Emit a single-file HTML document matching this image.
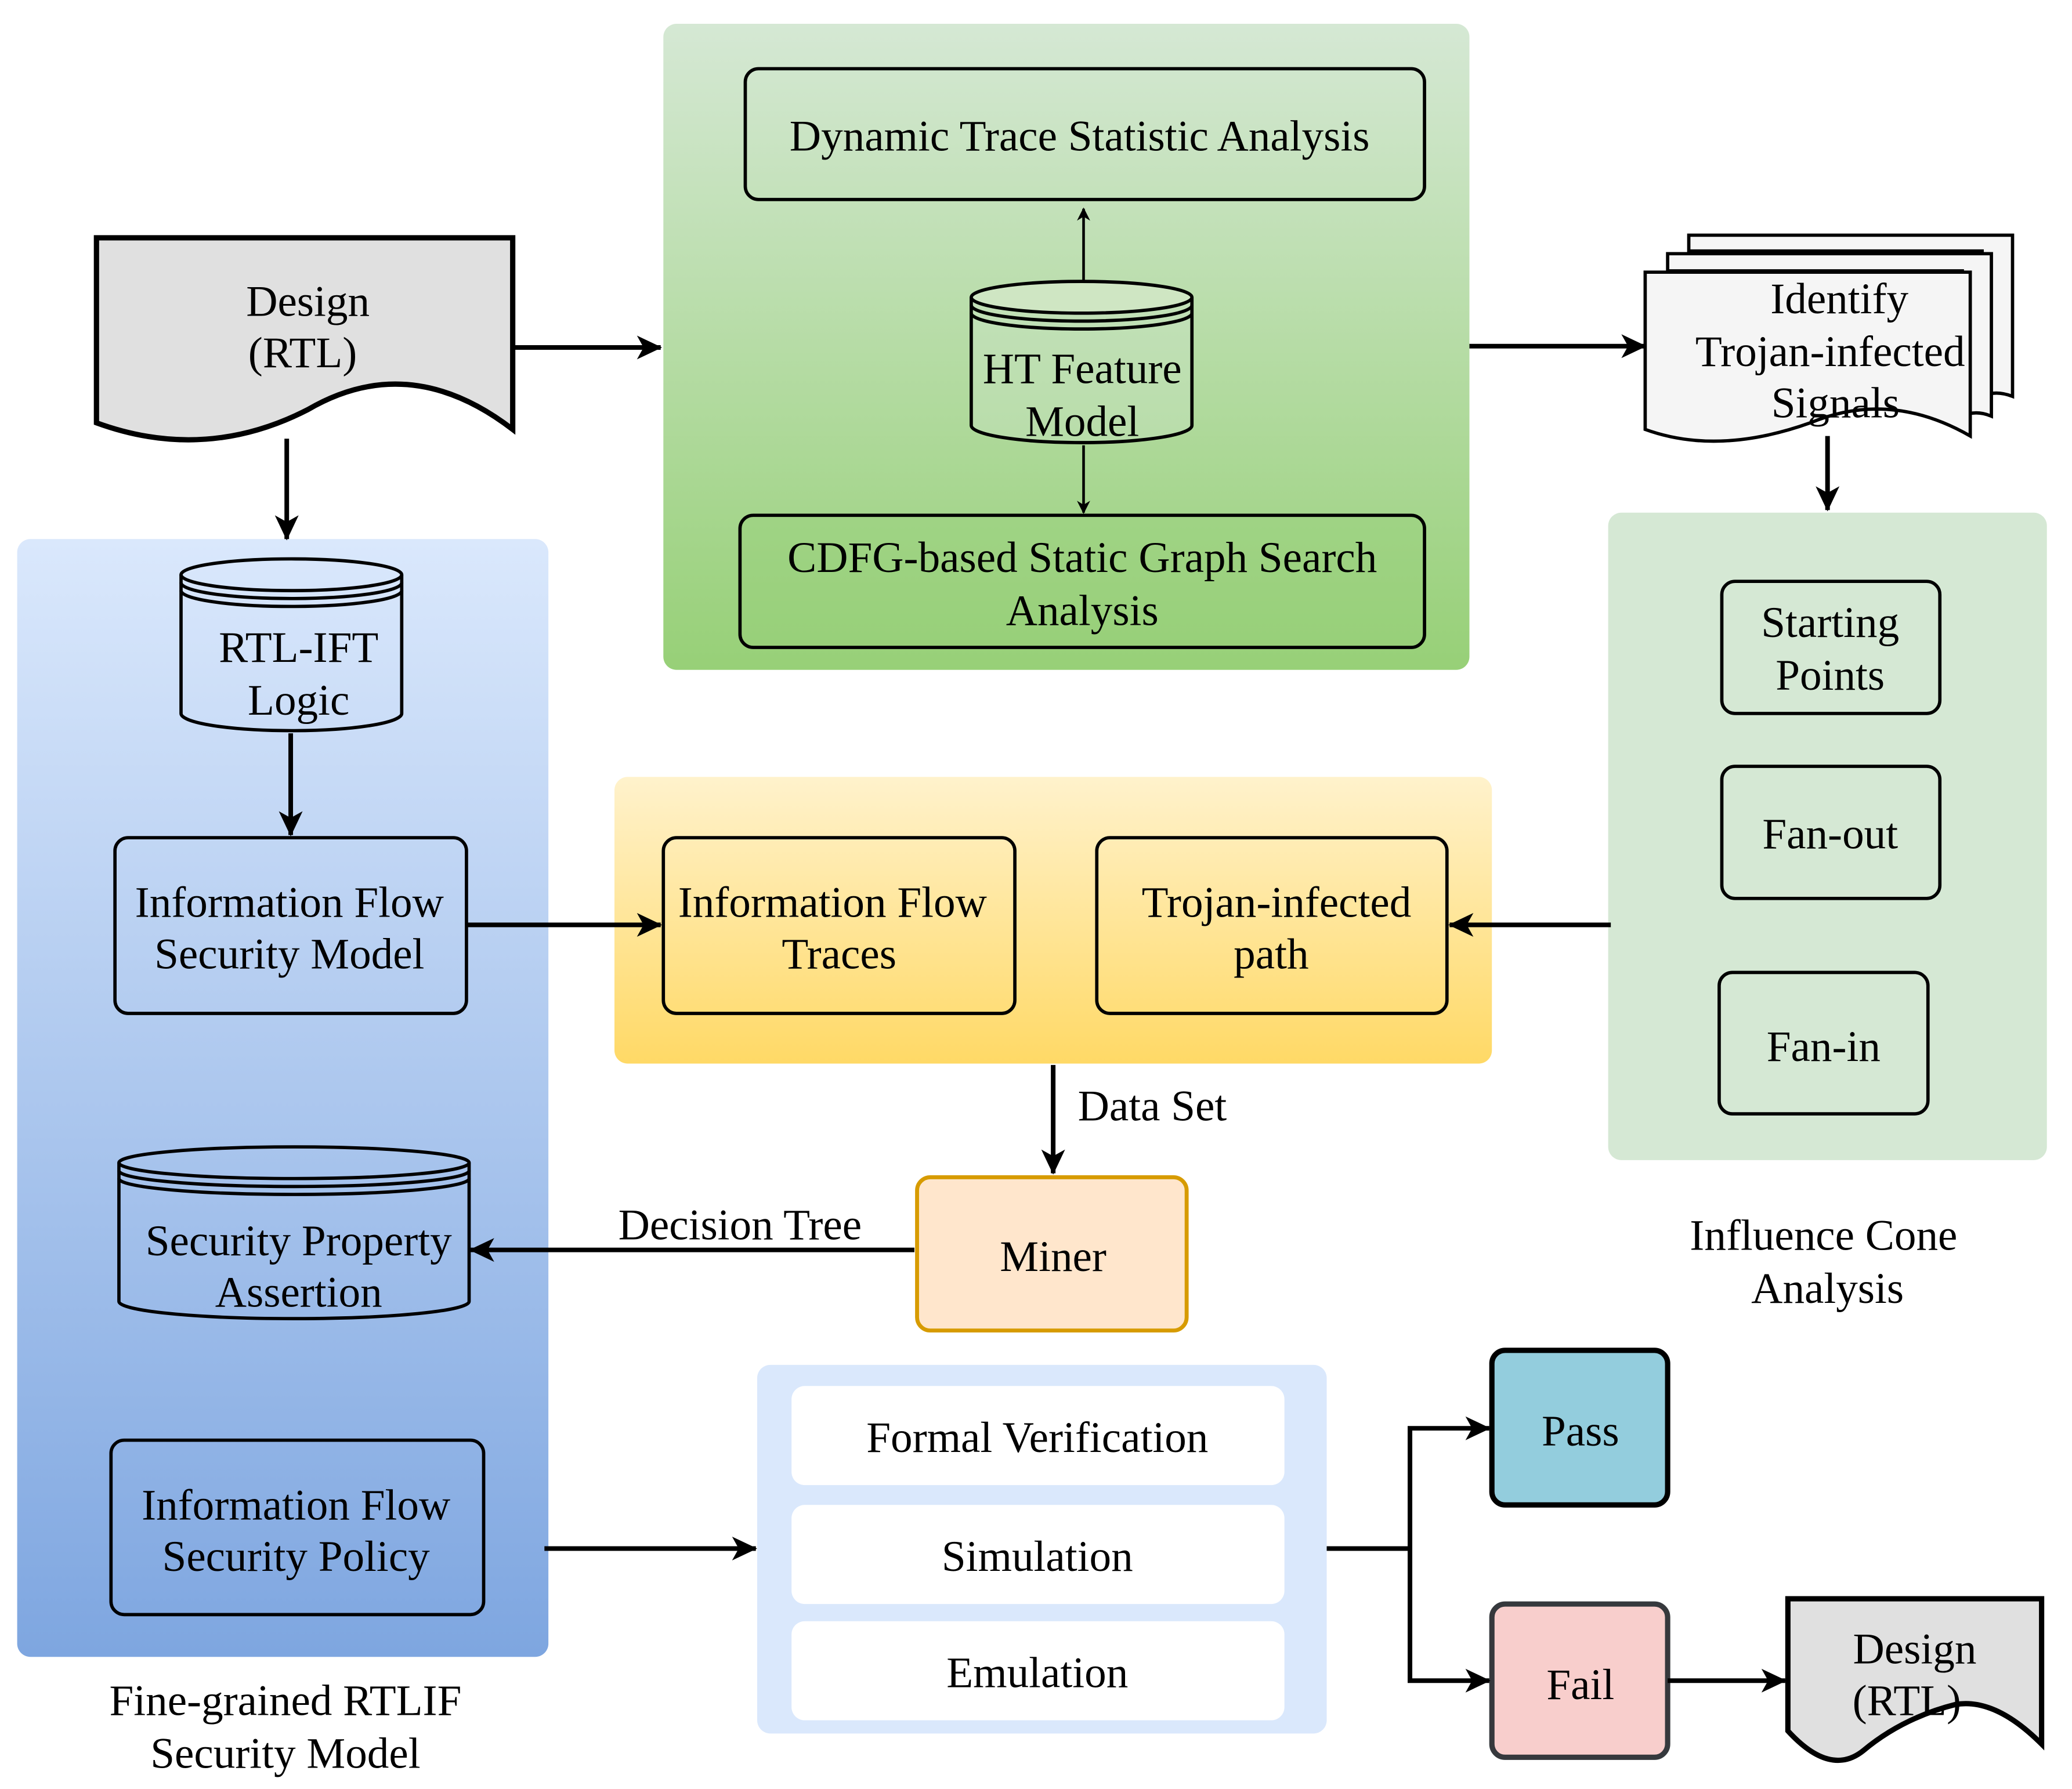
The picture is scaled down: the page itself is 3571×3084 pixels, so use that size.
<!DOCTYPE html>
<html><head><meta charset="utf-8"><style>
html,body{margin:0;padding:0;background:#fff}
svg{display:block}
text{font-family:"Liberation Serif",serif;font-size:33px;fill:#000;text-anchor:middle}
</style></head><body>
<svg width="3571" height="3084" viewBox="0 0 1568 1354" preserveAspectRatio="none" xmlns="http://www.w3.org/2000/svg">
<defs>
<linearGradient id="gG" x1="0" y1="0" x2="0" y2="1"><stop offset="0" stop-color="#d5e8d4"/><stop offset="1" stop-color="#97d077"/></linearGradient>
<linearGradient id="gB" x1="0" y1="0" x2="0" y2="1"><stop offset="0" stop-color="#dae8fc"/><stop offset="1" stop-color="#7ea6e0"/></linearGradient>
<linearGradient id="gY" x1="0" y1="0" x2="0" y2="1"><stop offset="0" stop-color="#fff2cc"/><stop offset="1" stop-color="#ffd966"/></linearGradient>
<marker id="ar" markerWidth="10" markerHeight="10" refX="9" refY="5" orient="auto" markerUnits="userSpaceOnUse"><path d="M0,0 L10,5 L0,10 L3,5 Z" fill="#000"/></marker>
<marker id="ab" markerWidth="20" markerHeight="20" refX="18" refY="10" orient="auto" markerUnits="userSpaceOnUse"><path d="M0,1 L19,10 L0,19 L5,10 Z" fill="#000"/></marker>
</defs>
<g stroke="#000" stroke-width="2.5" fill="none">
<rect x="502" y="18" width="610" height="489" rx="10" fill="url(#gG)" stroke="none"/>
<rect x="13" y="408" width="402" height="846" rx="10" fill="url(#gB)" stroke="none"/>
<rect x="465" y="588" width="664" height="217" rx="10" fill="url(#gY)" stroke="none"/>
<rect x="1217" y="388" width="332" height="490" rx="10" fill="#d5e8d4" stroke="none"/>
<rect x="573" y="1033" width="431" height="279" rx="10" fill="#dae8fc" stroke="none"/>
<rect x="599" y="1049" width="373" height="75" rx="10" fill="#fff" stroke="none"/>
<rect x="599" y="1139" width="373" height="75" rx="10" fill="#fff" stroke="none"/>
<rect x="599" y="1227" width="373" height="75" rx="10" fill="#fff" stroke="none"/>

<path d="M73,180 H388 V325 Q310,265 233,310 Q155,350 73,320 Z" fill="#e0e0e0" stroke-width="4"/>
<rect x="564" y="52" width="514" height="99" rx="10"/>
<rect x="560" y="390" width="518" height="100" rx="10" fill="#97d077" fill-opacity="0.4"/>
<path d="M735,225 V322 A83.5,13 0 0 0 902,322 V225" fill="#d5e8d4" fill-opacity="0.3"/>
<ellipse cx="818.5" cy="225" rx="83.5" ry="12" fill="#cfe6c3"/>
<path d="M735,231 A83.5,12 0 0 0 902,231 M735,237 A83.5,12 0 0 0 902,237" />
<path d="M1278,178 H1523 V300 Q1510,295 1500,300 V190 H1278 Z" fill="#f5f5f5"/>
<path d="M1262,192 H1507 V315 Q1495,310 1485,315 V205 H1262 Z" fill="#f5f5f5"/>
<path d="M1245,206 H1491 V330 Q1430,295 1370,320 Q1300,345 1245,325 Z" fill="#f5f5f5"/>
<rect x="1303" y="440" width="165" height="100" rx="10"/>
<rect x="1303" y="580" width="165" height="100" rx="10"/>
<rect x="1301" y="736" width="158" height="107" rx="10"/>
<path d="M137,435 V540 A83.5,13 0 0 0 304,540 V435" />
<ellipse cx="220.5" cy="435" rx="83.5" ry="12"/>
<path d="M137,441 A83.5,12 0 0 0 304,441 M137,447 A83.5,12 0 0 0 304,447"/>
<rect x="87" y="634" width="266" height="133" rx="10"/>
<rect x="502" y="634" width="266" height="133" rx="10"/>
<rect x="830" y="634" width="265" height="133" rx="10"/>
<path d="M90,880 V985 A132.5,13 0 0 0 355,985 V880"/>
<ellipse cx="222.5" cy="880" rx="132.5" ry="12"/>
<path d="M90,886 A132.5,12 0 0 0 355,886 M90,892 A132.5,12 0 0 0 355,892"/>
<rect x="84" y="1090" width="282" height="132" rx="10"/>
<rect x="694" y="891" width="204" height="116" rx="10" fill="#ffe6cc" stroke="#d79b00" stroke-width="3"/>
<rect x="1129" y="1022" width="133" height="117" rx="10" fill="#93cddd" stroke-width="4"/>
<rect x="1129" y="1214" width="133" height="116" rx="10" fill="#f8cecc" stroke="#36393d" stroke-width="4"/>
<path d="M1353,1210 H1545 V1320 Q1510,1285 1480,1290 Q1440,1300 1410,1325 Q1385,1345 1353,1310 Z" fill="#e0e0e0" stroke-width="4"/>

<path d="M820,212 V158" marker-end="url(#ar)" stroke-width="2"/>
<path d="M820,337 V388" marker-end="url(#ar)" stroke-width="2"/>
<g stroke-width="3.5">
<path d="M388,263 H500" marker-end="url(#ab)"/>
<path d="M1112,262 H1245" marker-end="url(#ab)"/>
<path d="M1383,330 V386" marker-end="url(#ab)"/>
<path d="M217,332 V408" marker-end="url(#ab)"/>
<path d="M220,555 V632" marker-end="url(#ab)"/>
<path d="M353,700 H500" marker-end="url(#ab)"/>
<path d="M1219,700 H1097" marker-end="url(#ab)"/>
<path d="M797,806 V888" marker-end="url(#ab)"/>
<path d="M692,946 H356" marker-end="url(#ab)"/>
<path d="M412,1172 H572" marker-end="url(#ab)"/>
<path d="M1004,1172 H1067 V1081 H1127" marker-end="url(#ab)"/>
<path d="M1067,1172 V1272 H1127" marker-end="url(#ab)"/>
<path d="M1262,1272 H1351" marker-end="url(#ab)"/>
</g>
</g>
<text x="233" y="239">Design</text><text x="229" y="278">(RTL)</text>
<text x="817" y="114">Dynamic Trace Statistic Analysis</text>
<text x="819" y="290">HT Feature</text><text x="819" y="330">Model</text>
<text x="819" y="433">CDFG-based Static Graph Search</text><text x="819" y="473">Analysis</text>
<text x="1392" y="237">Identify</text><text x="1385" y="277">Trojan-infected</text><text x="1389" y="316">Signals</text>
<text x="1385" y="482">Starting</text><text x="1385" y="522">Points</text>
<text x="1385" y="642">Fan-out</text>
<text x="1380" y="803">Fan-in</text>
<text x="1380" y="946">Influence Cone</text><text x="1383" y="986">Analysis</text>
<text x="226" y="501">RTL-IFT</text><text x="226" y="541">Logic</text>
<text x="219" y="694">Information Flow</text><text x="219" y="733">Security Model</text>
<text x="630" y="694">Information Flow</text><text x="635" y="733">Traces</text>
<text x="966" y="694">Trojan-infected</text><text x="962" y="733">path</text>
<text x="872" y="848">Data Set</text>
<text x="560" y="938">Decision Tree</text>
<text x="797" y="962">Miner</text>
<text x="226" y="950">Security Property</text><text x="226" y="989">Assertion</text>
<text x="224" y="1150">Information Flow</text><text x="224" y="1189">Security Policy</text>
<text x="216" y="1298">Fine-grained RTLIF</text><text x="216" y="1338">Security Model</text>
<text x="785" y="1099">Formal Verification</text>
<text x="785" y="1189">Simulation</text>
<text x="785" y="1277">Emulation</text>
<text x="1196" y="1094">Pass</text>
<text x="1196" y="1286">Fail</text>
<text x="1449" y="1259">Design</text><text x="1443" y="1298">(RTL)</text>
</svg>
</body></html>
